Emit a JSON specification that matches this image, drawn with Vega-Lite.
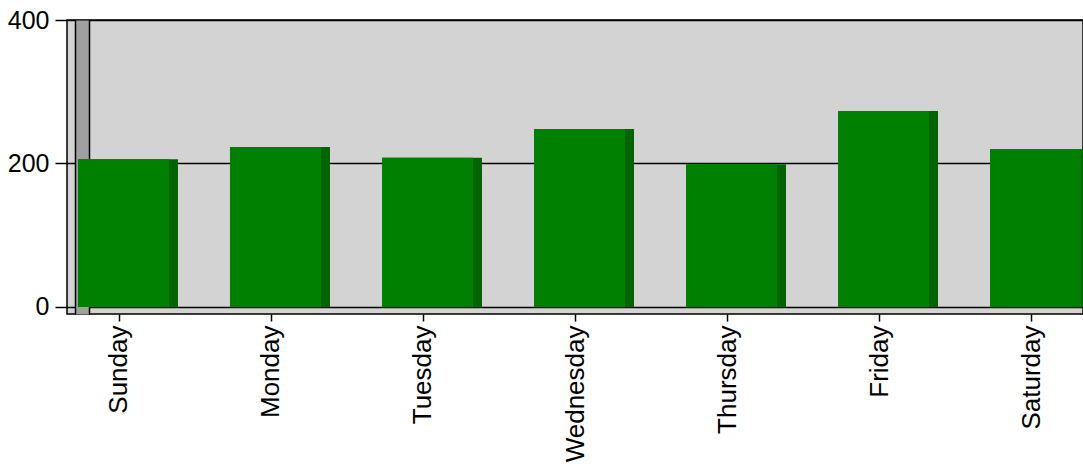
{
  "$schema": "https://vega.github.io/schema/vega-lite/v6.json",
  "autosize": "none",
  "padding": {"left": 67, "top": 20, "right": 0, "bottom": 152},
  "width": 1016,
  "height": 294,
  "background": "white",
  "config": {
    "view": {"fill": "#d3d3d3", "stroke": "black", "strokeWidth": 1.5},
    "font": "Liberation Sans"
  },
  "data": {
    "values": [
      {"day": "Sunday", "value": 206},
      {"day": "Monday", "value": 223},
      {"day": "Tuesday", "value": 208},
      {"day": "Wednesday", "value": 248},
      {"day": "Thursday", "value": 199},
      {"day": "Friday", "value": 273},
      {"day": "Saturday", "value": 220}
    ]
  },
  "encoding": {
    "x": {
      "field": "day", "type": "nominal", "sort": null,
      "scale": {"type": "point", "padding": 0.342},
      "axis": {
        "title": null, "domain": false, "labelAngle": -90, "labelAlign": "right",
        "labelBaseline": "middle", "labelFontSize": 26, "labelColor": "black",
        "labelPadding": 4, "tickColor": "black", "tickSize": 7, "tickWidth": 1.5,
        "labelFont": "Liberation Sans"
      }
    },
    "y": {
      "field": "value", "type": "quantitative",
      "scale": {"domain": [-9.76, 400], "nice": false, "zero": false}
    }
  },
  "layer": [
    {
      "mark": {"type": "bar", "width": 100, "xOffset": 9, "color": "#006400"},
      "encoding": {
        "y": {
          "field": "value", "type": "quantitative",
          "axis": {
            "title": null, "orient": "left", "values": [0, 200, 400], "domain": false,
            "grid": true, "gridColor": "black", "gridWidth": 1.5, "gridOpacity": 1,
            "tickColor": "black", "tickSize": 12, "tickWidth": 1.5,
            "labelFontSize": 25, "labelColor": "black", "labelPadding": 6,
            "labelFont": "Liberation Sans"
          }
        },
        "y2": {"datum": 0}
      }
    },
    {
      "mark": {"type": "bar", "width": 13, "opacity": 0},
      "encoding": {
        "y": {
          "field": "value", "type": "quantitative",
          "axis": {
            "title": null, "orient": "left", "offset": -15, "domain": true,
            "domainColor": "black", "domainWidth": 15.5, "labels": false, "ticks": false, "grid": false
          }
        },
        "y2": {"datum": 0}
      }
    },
    {
      "mark": {"type": "bar", "width": 13, "opacity": 0},
      "encoding": {
        "y": {
          "field": "value", "type": "quantitative",
          "axis": {
            "title": null, "orient": "left", "offset": -15, "domain": true,
            "domainColor": "#a0a0a0", "domainWidth": 12.5, "labels": false, "ticks": false, "grid": false
          }
        },
        "y2": {"datum": 0}
      }
    },
    {
      "mark": {"type": "bar", "width": 91, "xOffset": 4.5, "color": "#008000"},
      "encoding": {
        "y": {"field": "value", "type": "quantitative", "axis": null},
        "y2": {"datum": 0}
      }
    }
  ],
  "resolve": {"axis": {"y": "independent"}}
}
